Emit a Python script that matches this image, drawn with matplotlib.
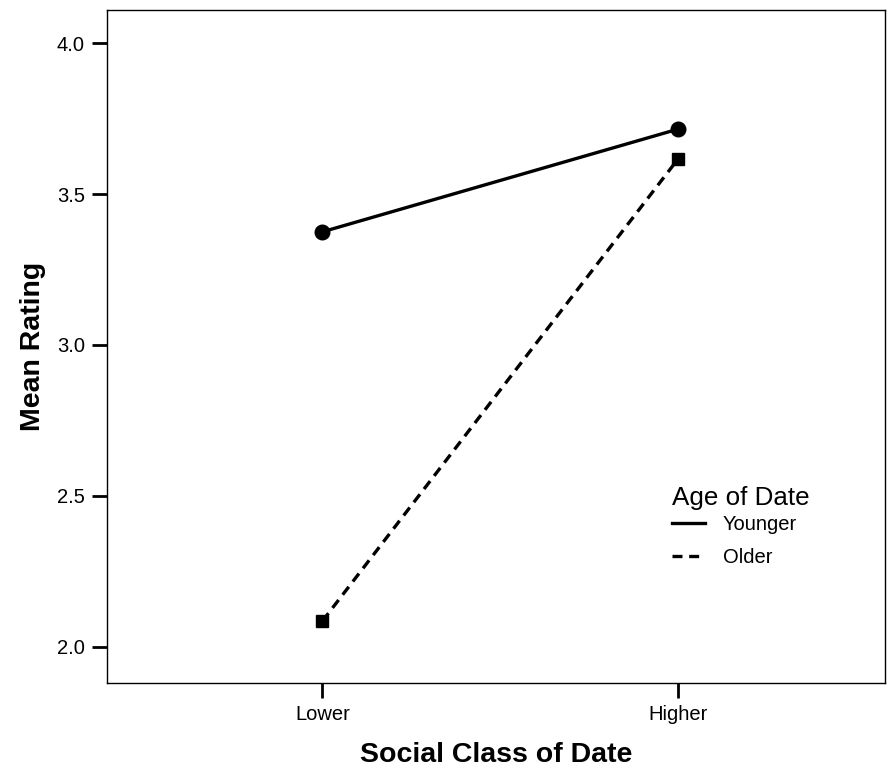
import matplotlib.pyplot as plt
from matplotlib.lines import Line2D

plt.rcParams['font.family'] = ['Liberation Sans', 'DejaVu Sans']

classes = ["Lower", "Higher"]
younger = [3.375, 3.715]
older = [2.085, 3.615]
yticks = [2.0, 2.5, 3.0, 3.5, 4.0]

fig = plt.figure(figsize=(8.88, 7.70), dpi=100)
ax = fig.add_axes([0.1205, 0.113, 0.876, 0.874])

x = list(range(len(classes)))
ax.plot(x, younger, color="black", lw=2.4, marker="o", markersize=10.5)
ax.plot(x, older, color="black", lw=2.4, marker="s", markersize=8.5,
        linestyle=(0, (3, 2)))

ax.set_xlim(-0.606, 1.583)
ax.set_ylim(1.88, 4.11)
ax.set_xticks(x)
ax.set_xticklabels(classes)
ax.set_yticks(yticks)
ax.set_yticklabels([f"{v:.1f}" for v in yticks])
ax.tick_params(labelsize=14.5, length=11, width=2, pad=5)
for s in ax.spines.values():
    s.set_linewidth(1)

ax.set_xlabel("Social Class of Date", fontsize=20.5, fontweight="bold", labelpad=13)
ax.set_ylabel("Mean Rating", fontsize=20.5, fontweight="bold", labelpad=8)

handles = [Line2D([], [], color="black", lw=2.4),
           Line2D([], [], color="black", lw=2.4, linestyle=(0, (3, 2)))]
leg = ax.legend(handles, ["Younger", "Older"], title="Age of Date",
                loc="upper left", bbox_to_anchor=(0.706, 0.317),
                frameon=False, fontsize=14.5, title_fontsize=18.7,
                handlelength=1.6, handletextpad=0.9, labelspacing=0.7,
                borderpad=0.3)
leg._legend_box.align = "left"
leg._legend_box.sep = 4

fig.savefig("out.png", dpi=100)
